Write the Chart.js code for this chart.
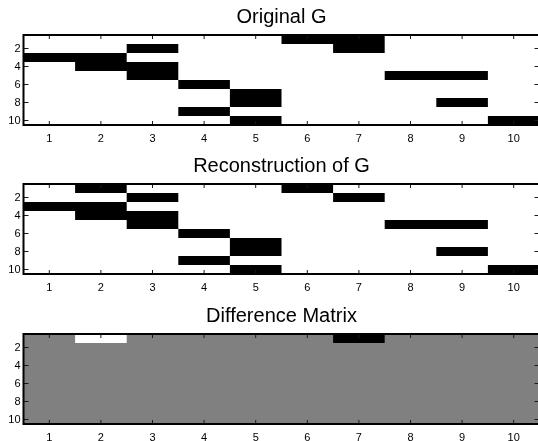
<!DOCTYPE html>
<html>
<head>
<meta charset="utf-8">
<script src="https://cdn.jsdelivr.net/npm/chart.js@4/dist/chart.umd.min.js"></script>
<style>
html,body{margin:0;padding:0;background:#fff;overflow:hidden;width:538px;height:441px;position:relative}
.p{position:absolute;left:0;width:540px;height:150px}
</style>
</head>
<body>
<div class="p" style="top:0px"><canvas id="c1"></canvas></div>
<div class="p" style="top:149px"><canvas id="c2"></canvas></div>
<div class="p" style="top:299px"><canvas id="c3"></canvas></div>
<script>
// ---- data ----
const columns = [1, 2, 3, 4, 5, 6, 7, 8, 9, 10];
const rows = [1, 2, 3, 4, 5, 6, 7, 8, 9, 10];
const rowTickLabels = [2, 4, 6, 8, 10];
const titles = ['Original G', 'Reconstruction of G', 'Difference Matrix'];

const originalG = [
  [0,0,0,0,0,1,1,0,0,0],
  [0,0,1,0,0,0,1,0,0,0],
  [1,1,0,0,0,0,0,0,0,0],
  [0,1,1,0,0,0,0,0,0,0],
  [0,0,1,0,0,0,0,1,1,0],
  [0,0,0,1,0,0,0,0,0,0],
  [0,0,0,0,1,0,0,0,0,0],
  [0,0,0,0,1,0,0,0,1,0],
  [0,0,0,1,0,0,0,0,0,0],
  [0,0,0,0,1,0,0,0,0,1]
];
const reconstructionG = [
  [0,1,0,0,0,1,0,0,0,0],
  [0,0,1,0,0,0,1,0,0,0],
  [1,1,0,0,0,0,0,0,0,0],
  [0,1,1,0,0,0,0,0,0,0],
  [0,0,1,0,0,0,0,1,1,0],
  [0,0,0,1,0,0,0,0,0,0],
  [0,0,0,0,1,0,0,0,0,0],
  [0,0,0,0,1,0,0,0,1,0],
  [0,0,0,1,0,0,0,0,0,0],
  [0,0,0,0,1,0,0,0,0,1]
];
const differenceMatrix = [
  [0,-1,0,0,0,0,1,0,0,0],
  [0,0,0,0,0,0,0,0,0,0],
  [0,0,0,0,0,0,0,0,0,0],
  [0,0,0,0,0,0,0,0,0,0],
  [0,0,0,0,0,0,0,0,0,0],
  [0,0,0,0,0,0,0,0,0,0],
  [0,0,0,0,0,0,0,0,0,0],
  [0,0,0,0,0,0,0,0,0,0],
  [0,0,0,0,0,0,0,0,0,0],
  [0,0,0,0,0,0,0,0,0,0]
];
const colorLimits = [[0, 1], [0, 1], [-1, 1]];
const zeroValue = 0;

// inverted gray colormap: high = black, low = white, middle = 128
function grayFor(v, lim) {
  const t = (v - lim[0]) / (lim[1] - lim[0]);
  const g = Math.abs(t - 0.5) < 1e-9 ? 128 : Math.round(255 * (1 - t));
  return 'rgb(' + g + ',' + g + ',' + g + ')';
}

// build horizontal runs of equal non-background value (one bar per run)
function cellRuns(matrix) {
  const out = [];
  matrix.forEach((row, ri) => {
    let ci = 0;
    while (ci < row.length) {
      const v = row[ci];
      let cj = ci;
      while (cj + 1 < row.length && row[cj + 1] === v) cj++;
      if (v !== zeroValue) {
        out.push({ y: rows[ri], x: [columns[ci] - 0.5, columns[cj] + 0.5], v: v });
      }
      ci = cj + 1;
    }
  });
  return out;
}

const FONT = "'Liberation Sans', Arial, Helvetica, sans-serif";

const backgroundPlugin = {
  id: 'cellBackground',
  beforeDatasetsDraw(chart, args, opts) {
    const { ctx, chartArea: a } = chart;
    ctx.save();
    ctx.fillStyle = opts.color;
    ctx.fillRect(a.left, a.top, a.right - a.left, a.bottom - a.top);
    ctx.restore();
  }
};

const framePlugin = {
  id: 'frameTicks',
  afterDraw(chart) {
    const { ctx, chartArea: a, scales } = chart;
    const x = scales.x, y = scales.y;
    ctx.save();
    ctx.strokeStyle = '#1a1a1a';
    ctx.lineWidth = 1;
    ctx.beginPath();
    columns.forEach(c => {
      const px = x.getPixelForValue(c);
      ctx.moveTo(px, a.bottom); ctx.lineTo(px, a.bottom - 4);
      ctx.moveTo(px, a.top); ctx.lineTo(px, a.top + 4);
    });
    rowTickLabels.forEach(r => {
      const py = y.getPixelForValue(r);
      ctx.moveTo(a.left, py); ctx.lineTo(a.left + 5, py);
      ctx.moveTo(a.right, py); ctx.lineTo(a.right - 5, py);
    });
    ctx.stroke();
    ctx.strokeStyle = '#000';
    ctx.lineWidth = 2;
    ctx.strokeRect(a.left, a.top, a.right - a.left, a.bottom - a.top);
    ctx.restore();
  }
};

function makeChart(id, matrix, title, lim) {
  const data = cellRuns(matrix);
  return new Chart(document.getElementById(id), {
    type: 'bar',
    data: {
      datasets: [{
        data: data,
        backgroundColor: ctx => grayFor(ctx.raw.v, lim),
        borderWidth: 0,
        inflateAmount: 0,
        barPercentage: 1,
        categoryPercentage: 1
      }]
    },
    options: {
      indexAxis: 'y',
      responsive: true,
      maintainAspectRatio: false,
      animation: false,
      events: [],
      layout: { padding: { left: 0, right: 0.5, top: 0, bottom: 0 } },
      plugins: {
        legend: { display: false },
        tooltip: { enabled: false },
        title: {
          display: true,
          text: title,
          fullSize: false,
          color: '#000',
          font: { family: FONT, size: 20, weight: 'normal', lineHeight: 1.2 },
          padding: { top: 5, bottom: 6 }
        },
        cellBackground: { color: grayFor(zeroValue, lim) }
      },
      scales: {
        x: {
          type: 'linear',
          position: 'bottom',
          min: 0.5,
          max: 10.5,
          offset: false,
          beginAtZero: false,
          afterBuildTicks: s => { s.ticks = columns.map(v => ({ value: v })); },
          afterFit: s => { s.height = 25; },
          grid: { display: false, drawTicks: false, offset: false },
          border: { display: false },
          ticks: {
            color: '#000',
            padding: 7,
            maxRotation: 0,
            autoSkip: false,
            font: { family: FONT, size: 11 },
            callback: v => String(v)
          }
        },
        y: {
          type: 'linear',
          position: 'left',
          reverse: true,
          min: 0.5,
          max: 10.5,
          offset: false,
          afterBuildTicks: s => { s.ticks = rows.map(v => ({ value: v })); },
          afterFit: s => { s.width = 23.5; },
          grid: { display: false, drawTicks: false, offset: false },
          border: { display: false },
          ticks: {
            color: '#000',
            padding: 3,
            autoSkip: false,
            font: { family: FONT, size: 11 },
            callback: v => (rowTickLabels.includes(v) ? String(v) : '')
          }
        }
      }
    },
    plugins: [backgroundPlugin, framePlugin]
  });
}

makeChart('c1', originalG, titles[0], colorLimits[0]);
makeChart('c2', reconstructionG, titles[1], colorLimits[1]);
makeChart('c3', differenceMatrix, titles[2], colorLimits[2]);
</script>
</body>
</html>
